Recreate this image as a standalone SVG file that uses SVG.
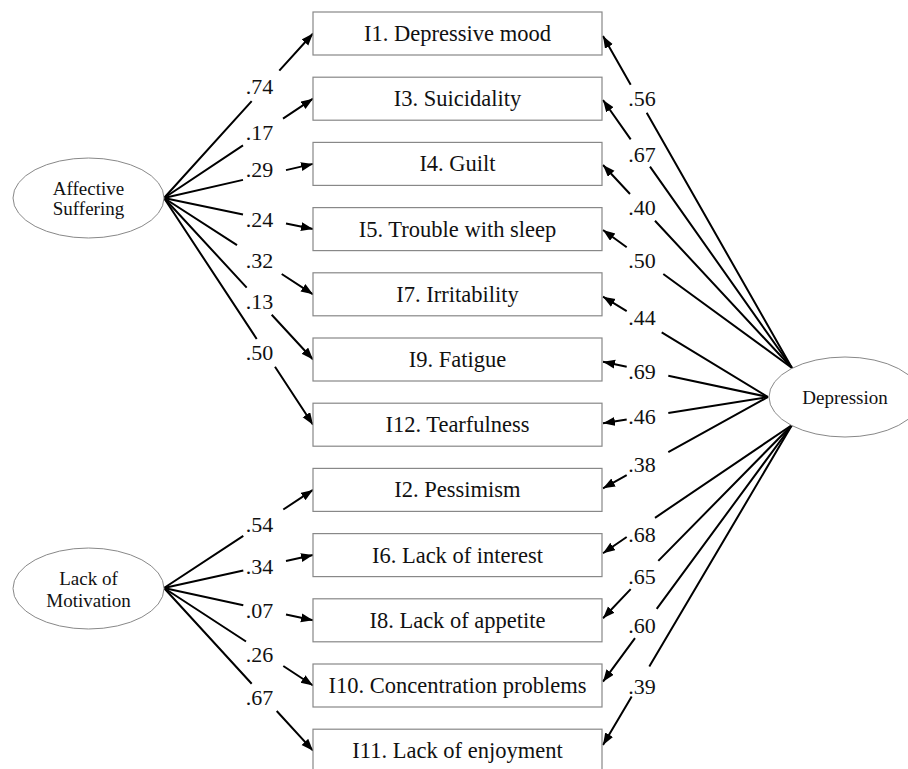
<svg xmlns="http://www.w3.org/2000/svg" width="908" height="769" viewBox="0 0 908 769">
<defs>
<marker id="ah" markerUnits="userSpaceOnUse" markerWidth="13" markerHeight="10" refX="12" refY="4.5" orient="auto"><path d="M0,0 L12,4.5 L0,9 z" fill="#000"/></marker>
<style>
.box{fill:#fff;stroke:#888;stroke-width:1.2}
.ell{fill:#fff;stroke:#888;stroke-width:1}
.bt{font-family:"Liberation Serif","Times New Roman",serif;font-size:22.5px;text-anchor:middle;fill:#111}
.et{font-family:"Liberation Serif","Times New Roman",serif;font-size:19px;text-anchor:middle;fill:#111}
.lb{font-family:"Liberation Serif","Times New Roman",serif;font-size:22px;text-anchor:middle;fill:#111}
.c{fill:none;stroke:#000;stroke-width:2;marker-end:url(#ah)}
</style>
</defs>
<rect width="908" height="769" fill="#fff"/>
<g id="connectors">
<path class="c" d="M164,198 L251.7,101.2 M279.3,70.7 L313,33.5"/>
<path class="c" d="M164,198 L243,145.4 M283,118.7 L313,98.7"/>
<path class="c" d="M164,198 L243,179.9 M286,170.1 L313,163.9"/>
<path class="c" d="M164,198 L243,214.5 M286,223.5 L313,229.1"/>
<path class="c" d="M164,198 L237,245.2 M281.7,274 L313,294.3"/>
<path class="c" d="M164,198 L246.7,287.6 M271.7,314.7 L313,359.5"/>
<path class="c" d="M164,198 L256.7,339 M275,366.8 L313,424.7"/>
<path class="c" d="M164,588 L243.3,535.8 M283.3,509.5 L313,489.9"/>
<path class="c" d="M164,588 L243.3,570.5 M286,561 L313,555.1"/>
<path class="c" d="M164,588 L243.3,605.2 M286,614.5 L313,620.3"/>
<path class="c" d="M164,588 L246,641.5 M283.3,666 L313,685.5"/>
<path class="c" d="M164,588 L251.7,683.8 M276.7,711 L313,750.7"/>
<path class="c" d="M792,368 L646.7,112.8 M630.7,84.7 L603,36"/>
<path class="c" d="M792,368 L650,166.6 M630.7,139.3 L603,100"/>
<path class="c" d="M792,368 L655,220.8 M630,194 L603,165"/>
<path class="c" d="M792,368 L663.3,274 M626.7,247.3 L603,230"/>
<path class="c" d="M768,397 L661.7,332.4 M626.7,311.1 L603,296.7"/>
<path class="c" d="M768,397 L668.3,375.7 M626.7,366.8 L603,361.7"/>
<path class="c" d="M768,397 L668.3,412.9 M626.7,419.5 L603,423.3"/>
<path class="c" d="M768,397 L668.3,452.2 M626.7,475.2 L603,488.3"/>
<path class="c" d="M792,425 L655,517.8 M626.7,537 L603,553.3"/>
<path class="c" d="M792,425 L658.3,560.9 M630.7,589.1 L603,618.3"/>
<path class="c" d="M792,425 L656.7,608.8 M635,638.2 L603,681.7"/>
<path class="c" d="M792,425 L649.3,666.6 M631.7,696.4 L603,745"/>
</g>
<g id="labels">
<text class="lb" x="259.5" y="94">.74</text>
<text class="lb" x="259.5" y="140">.17</text>
<text class="lb" x="259.5" y="177">.29</text>
<text class="lb" x="259.5" y="227">.24</text>
<text class="lb" x="259.5" y="268">.32</text>
<text class="lb" x="259.5" y="309">.13</text>
<text class="lb" x="259.5" y="360">.50</text>
<text class="lb" x="259.5" y="532">.54</text>
<text class="lb" x="259.5" y="574">.34</text>
<text class="lb" x="259.5" y="618">.07</text>
<text class="lb" x="259.5" y="662">.26</text>
<text class="lb" x="259.5" y="705">.67</text>
<text class="lb" x="642" y="106">.56</text>
<text class="lb" x="642" y="162">.67</text>
<text class="lb" x="642" y="215">.40</text>
<text class="lb" x="642" y="268">.50</text>
<text class="lb" x="642" y="325">.44</text>
<text class="lb" x="642" y="379">.69</text>
<text class="lb" x="642" y="424">.46</text>
<text class="lb" x="642" y="472">.38</text>
<text class="lb" x="642" y="542">.68</text>
<text class="lb" x="642" y="584">.65</text>
<text class="lb" x="642" y="633">.60</text>
<text class="lb" x="642" y="694">.39</text>
</g>
<g id="affective"><ellipse class="ell" cx="88.5" cy="198" rx="75.5" ry="40"/><text class="et" x="88.5" y="195">Affective</text><text class="et" x="88.5" y="215">Suffering</text></g>
<g id="motivation"><ellipse class="ell" cx="88.5" cy="588.5" rx="75.5" ry="40.5"/><text class="et" x="88.5" y="585">Lack of</text><text class="et" x="88.5" y="606.5">Motivation</text></g>
<g id="depression"><ellipse class="ell" cx="845" cy="397" rx="76" ry="40"/><text class="et" x="845" y="403.5">Depression</text></g>
<g id="i1"><rect class="box" x="313" y="12" width="289" height="43"/><text class="bt" x="457.5" y="41">I1. Depressive mood</text></g>
<g id="i3"><rect class="box" x="313" y="77.2" width="289" height="43"/><text class="bt" x="457.5" y="106.2">I3. Suicidality</text></g>
<g id="i4"><rect class="box" x="313" y="142.4" width="289" height="43"/><text class="bt" x="457.5" y="171.4">I4. Guilt</text></g>
<g id="i5"><rect class="box" x="313" y="207.6" width="289" height="43"/><text class="bt" x="457.5" y="236.6">I5. Trouble with sleep</text></g>
<g id="i7"><rect class="box" x="313" y="272.8" width="289" height="43"/><text class="bt" x="457.5" y="301.8">I7. Irritability</text></g>
<g id="i9"><rect class="box" x="313" y="338" width="289" height="43"/><text class="bt" x="457.5" y="367">I9. Fatigue</text></g>
<g id="i12"><rect class="box" x="313" y="403.2" width="289" height="43"/><text class="bt" x="457.5" y="432.2">I12. Tearfulness</text></g>
<g id="i2"><rect class="box" x="313" y="468.4" width="289" height="43"/><text class="bt" x="457.5" y="497.4">I2. Pessimism</text></g>
<g id="i6"><rect class="box" x="313" y="533.6" width="289" height="43"/><text class="bt" x="457.5" y="562.6">I6. Lack of interest</text></g>
<g id="i8"><rect class="box" x="313" y="598.8" width="289" height="43"/><text class="bt" x="457.5" y="627.8">I8. Lack of appetite</text></g>
<g id="i10"><rect class="box" x="313" y="664" width="289" height="43"/><text class="bt" x="457.5" y="693">I10. Concentration problems</text></g>
<g id="i11"><rect class="box" x="313" y="729.2" width="289" height="43"/><text class="bt" x="457.5" y="758.2">I11. Lack of enjoyment</text></g>
</svg>
